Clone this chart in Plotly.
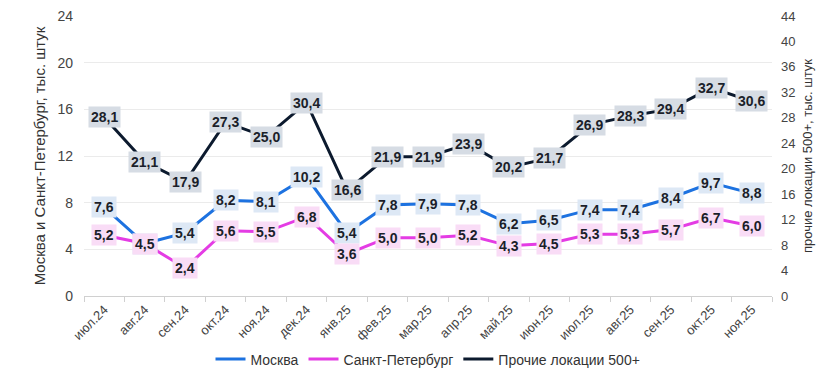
import plotly.graph_objects as go

months = ["июл.24", "авг.24", "сен.24", "окт.24", "ноя.24", "дек.24", "янв.25", "фев.25",
          "мар.25", "апр.25", "май.25", "июн.25", "июл.25", "авг.25", "сен.25", "окт.25", "ноя.25"]
moscow = [7.6, 4.5, 5.4, 8.2, 8.1, 10.2, 5.4, 7.8, 7.9, 7.8, 6.2, 6.5, 7.4, 7.4, 8.4, 9.7, 8.8]
spb = [5.2, 4.5, 2.4, 5.6, 5.5, 6.8, 3.6, 5.0, 5.0, 5.2, 4.3, 4.5, 5.3, 5.3, 5.7, 6.7, 6.0]
other = [28.1, 21.1, 17.9, 27.3, 25.0, 30.4, 16.6, 21.9, 21.9, 23.9, 20.2, 21.7, 26.9, 28.3, 29.4, 32.7, 30.6]

names = ["Москва", "Санкт-Петербург", "Прочие локации 500+"]
colors = ["#1d72e0", "#e43ce4", "#0c1a2e"]
label_bg = ["#dde8f5", "#f9dcf6", "#d6dce4"]

FONT = "Liberation Sans, Arial, sans-serif"

fig = go.Figure()
series = [(moscow, "y"), (spb, "y"), (other, "y2")]
for (vals, ax), name, col in zip(series, names, colors):
    fig.add_trace(go.Scatter(x=months, y=vals, name=name, mode="lines",
                             line=dict(color=col, width=3), yaxis=ax))

annotations = []
for (vals, ax), bg in zip(series, label_bg):
    for m, v in zip(months, vals):
        annotations.append(dict(
            x=m, y=v, xref="x", yref=ax, text=f"{v:.1f}".replace(".", ","),
            showarrow=False, bgcolor=bg, borderpad=2,
            font=dict(family=FONT, size=14, color="#1b1f2a", weight="bold"),
        ))

fig.update_layout(
    width=840, height=382,
    margin=dict(l=76, r=76, t=8, b=94, autoexpand=False),
    paper_bgcolor="white", plot_bgcolor="white",
    font=dict(family=FONT, size=13, color="#444444"),
    annotations=annotations,
    showlegend=True,
    legend=dict(orientation="h", x=0.5, xanchor="center", yref="container",
                y=0.08, yanchor="middle",
                font=dict(family=FONT, size=14, color="#333333"),
                itemwidth=30, tracegroupgap=0),
    xaxis=dict(type="category", showgrid=False, showline=True, linecolor="#d0d0d0",
               ticks="outside", tickson="boundaries", ticklen=5, tickcolor="#d0d0d0",
               tickangle=-45, tickfont=dict(size=13, color="#444444"),
               range=[-0.5, 16.5], automargin=False),
    yaxis=dict(range=[0, 24], dtick=4, showgrid=True, gridcolor="#ebebeb",
               zeroline=False, tickfont=dict(size=14, color="#444444"), automargin=False,
               ticklabelstandoff=10, ticklabeloverflow="allow",
               title=dict(text="Москва и Санкт-Петербург, тыс. штук",
                          font=dict(size=15, color="#333333"), standoff=8)),
    yaxis2=dict(range=[0, 44], dtick=4, overlaying="y", side="right", showgrid=False,
                zeroline=False, tickfont=dict(size=13, color="#444444"), automargin=False,
                ticklabelstandoff=8, ticklabeloverflow="allow",
                title=dict(text="прочие локации 500+, тыс. штук",
                           font=dict(size=13, color="#333333"), standoff=8)),
)

fig.write_html("out.html")
